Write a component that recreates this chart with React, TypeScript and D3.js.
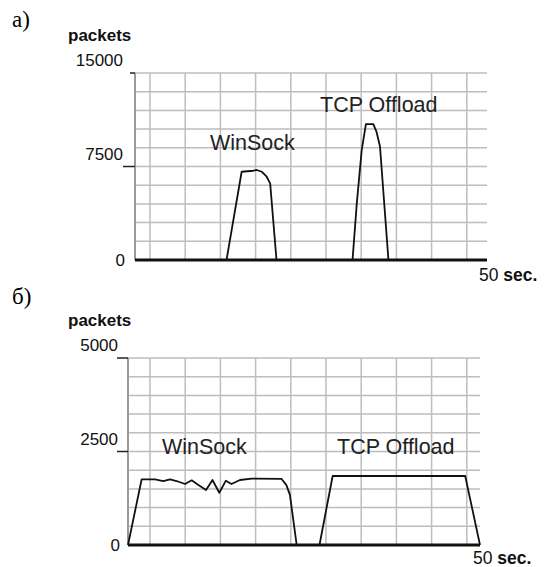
import { line, scaleLinear, range } from "d3";

// panel a) — packets per second, 0..50 sec
const winsockTimeA = [0, 13.0, 15.15, 16.8, 17.3, 18.0, 18.7, 19.2, 20.1, 50];
const winsockPacketsA = [0, 0, 7080, 7160, 7220, 7080, 6680, 6150, 0, 0];
const offloadTimeA = [0, 30.9, 31.5, 32.2, 32.8, 33.85, 34.3, 34.8, 36.0, 50];
const offloadPacketsA = [0, 0, 4500, 8800, 10900, 10900, 10300, 9100, 0, 0];
const yTicksA = [15000, 7500, 0];

// panel б)
const winsockTimeB = [
  0, 1.94, 3.84, 5.0, 5.97, 6.9, 8.1, 9.05, 10.0, 11.08, 12.0, 12.97, 13.9, 14.7, 15.9, 17.57,
  21.8, 22.5, 23.0, 23.96, 50,
];
const winsockPacketsB = [
  0, 1757, 1757, 1711, 1757, 1711, 1631, 1730, 1604, 1470, 1738, 1398, 1720, 1631, 1738, 1773,
  1770, 1600, 1340, 0, 0,
];
const offloadTimeB = [0, 27.2, 29.07, 47.9, 50];
const offloadPacketsB = [0, 0, 1845, 1845, 0];
const yTicksB = [5000, 2500, 0];

const FONT = "'Liberation Sans', Arial, sans-serif";
const SERIF = "'Liberation Serif', 'Times New Roman', serif";

type Point = [number, number];

function zip(t: number[], v: number[]): Point[] {
  return t.map((d, i) => [d, v[i]] as Point);
}

interface PanelProps {
  letter: string;
  letterY: number;
  left: number;
  right: number;
  top: number;
  bottom: number;
  yMax: number;
  yTicks: number[];
  gridStart: number;
  labelEnd: number;
  tickFrom: number[];
  winsock: Point[];
  offload: Point[];
  winsockLabel: [number, number];
  offloadLabel: [number, number];
  secX: number;
  secY: number;
}

function Panel(p: PanelProps) {
  const x = scaleLinear().domain([0, 50]).range([p.left, p.right]);
  const y = scaleLinear().domain([0, p.yMax]).range([p.bottom, p.top]);
  const path = line<Point>()
    .x((d) => x(d[0]))
    .y((d) => y(d[1]));
  const xGrid = range(p.gridStart, 50, 5);
  const yGrid = range(0, p.yMax + 1, p.yMax / 10);

  return (
    <g>
      <text x={12} y={p.letterY} fontFamily={SERIF} fontSize={23} fill="#000">
        {p.letter}
      </text>
      <text x={68} y={p.top - 32} fontFamily={FONT} fontSize={17} fontWeight="bold" fill="#111">
        packets
      </text>
      {xGrid.map((t) => (
        <line key={`x${t}`} x1={x(t)} x2={x(t)} y1={p.top} y2={p.bottom} stroke="#bdbdbd" strokeWidth={1.5} />
      ))}
      {yGrid.map((v) => (
        <line key={`y${v}`} x1={p.left} x2={p.right} y1={y(v)} y2={y(v)} stroke="#bdbdbd" strokeWidth={1.5} />
      ))}
      <line x1={p.left} x2={p.left} y1={p.top} y2={p.bottom} stroke="#9a9a9a" strokeWidth={2} />
      {p.yTicks.map((v, i) => (
        <g key={v}>
          {v > 0 && (
            <line x1={p.tickFrom[i]} x2={p.left} y1={y(v)} y2={y(v)} stroke="#222" strokeWidth={1.5} />
          )}
          <text
            x={v === 0 ? p.labelEnd + 2 : p.labelEnd}
            y={v === 0 ? y(v) + 6 : y(v) - 7}
            textAnchor="end"
            fontFamily={FONT}
            fontSize={17}
            fill="#111"
          >
            {v}
          </text>
        </g>
      ))}
      <path d={path(p.winsock) ?? ""} fill="none" stroke="#111" strokeWidth={1.8} strokeLinejoin="round" />
      <path d={path(p.offload) ?? ""} fill="none" stroke="#111" strokeWidth={1.8} strokeLinejoin="round" />
      <line x1={p.left} x2={p.right} y1={p.bottom} y2={p.bottom} stroke="#111" strokeWidth={3} />
      <text x={p.winsockLabel[0]} y={p.winsockLabel[1]} fontFamily={FONT} fontSize={21.5} fill="#222">
        WinSock
      </text>
      <text x={p.offloadLabel[0]} y={p.offloadLabel[1]} fontFamily={FONT} fontSize={21.5} fill="#222">
        TCP Offload
      </text>
      <text x={p.secX} y={p.secY} fontFamily={FONT} fontSize={17.5} fill="#111">
        50 <tspan fontWeight="bold">sec.</tspan>
      </text>
    </g>
  );
}

export default function App() {
  return (
    <svg
      width={545}
      height={567}
      style={{ position: "absolute", left: 0, top: 0, background: "#fff" }}
    >
      <rect width={545} height={567} fill="#fff" />
      <Panel
        letter="а)"
        letterY={27}
        left={135}
        right={487}
        top={73}
        bottom={260}
        yMax={15000}
        yTicks={yTicksA}
        gridStart={2.13}
        labelEnd={123}
        tickFrom={[130, 123]}
        winsock={zip(winsockTimeA, winsockPacketsA)}
        offload={zip(offloadTimeA, offloadPacketsA)}
        winsockLabel={[210, 150]}
        offloadLabel={[320, 112]}
        secX={479}
        secY={281}
      />
      <Panel
        letter="б)"
        letterY={304}
        left={128}
        right={480}
        top={358}
        bottom={545}
        yMax={5000}
        yTicks={yTicksB}
        gridStart={3.125}
        labelEnd={118}
        tickFrom={[117, 117]}
        winsock={zip(winsockTimeB, winsockPacketsB)}
        offload={zip(offloadTimeB, offloadPacketsB)}
        winsockLabel={[162, 454]}
        offloadLabel={[337, 454]}
        secX={473}
        secY={564}
      />
    </svg>
  );
}
